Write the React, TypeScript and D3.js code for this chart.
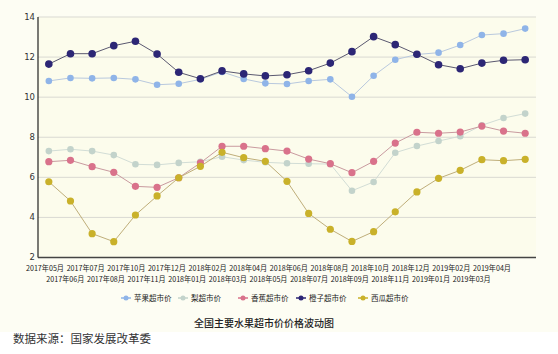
import React from 'react';
import * as d3 from 'd3';

const W = 558;
const H = 354;

// categories (2017年09月 is absent in the source)
const months = [
  '2017年05月', '2017年06月', '2017年07月', '2017年08月', '2017年10月', '2017年11月', '2017年12月',
  '2018年01月', '2018年02月', '2018年03月', '2018年04月', '2018年05月', '2018年06月', '2018年07月',
  '2018年08月', '2018年09月', '2018年10月', '2018年11月', '2018年12月',
  '2019年01月', '2019年02月', '2019年03月', '2019年04月'
];

const apple = [10.81, 10.96, 10.94, 10.96, 10.89, 10.62, 10.67, 10.89, 11.26, 10.91, 10.69, 10.66, 10.81, 10.89, 10.02, 11.07, 11.87, 12.13, 12.22, 12.6, 13.1, 13.17, 13.42];
const pear = [7.31, 7.4, 7.31, 7.11, 6.65, 6.62, 6.72, 6.78, 7.03, 6.86, 6.75, 6.7, 6.68, 6.66, 5.33, 5.77, 7.23, 7.56, 7.81, 8.05, 8.6, 8.96, 9.18];
const banana = [6.78, 6.85, 6.53, 6.25, 5.55, 5.5, 5.98, 6.72, 7.55, 7.55, 7.43, 7.31, 6.91, 6.68, 6.23, 6.8, 7.71, 8.25, 8.2, 8.26, 8.56, 8.31, 8.2];
const orange = [11.65, 12.17, 12.17, 12.57, 12.79, 12.15, 11.24, 10.92, 11.31, 11.16, 11.06, 11.12, 11.32, 11.7, 12.27, 13.02, 12.62, 12.14, 11.62, 11.42, 11.7, 11.84, 11.87];
const melon = [5.78, 4.82, 3.19, 2.79, 4.12, 5.07, 5.98, 6.55, 7.25, 6.98, 6.8, 5.8, 4.2, 3.41, 2.8, 3.29, 4.28, 5.27, 5.95, 6.35, 6.88, 6.83, 6.9];

const yTicks = [2, 4, 6, 8, 10, 12, 14];

const series = [
  { name: '苹果超市价', values: apple, dot: '#8fb4e8', line: '#b9c9de', r: 3.3 },
  { name: '梨超市价', values: pear, dot: '#c3d3cb', line: '#d2ddd6', r: 3.3 },
  { name: '香蕉超市价', values: banana, dot: '#d9728b', line: '#c99a9f', r: 3.6 },
  { name: '橙子超市价', values: orange, dot: '#2c2675', line: '#5a5870', r: 3.8 },
  { name: '西瓜超市价', values: melon, dot: '#c9b12a', line: '#bfae7a', r: 3.6 },
];

const legendX = [126, 183, 243, 301, 363];

const cjk = '"Noto Sans CJK SC", "Noto Sans", sans-serif';

export default function App() {
  const x = d3.scalePoint<string>().domain(months).range([38, 536]).padding(0.5);
  const xLab = d3.scalePoint<string>().domain(months).range([45, 492]);
  const y = d3.scaleLinear().domain([2, 14]).range([257.5, 17]);

  const line = (vals: number[]) =>
    d3.line<number>().x((_, i) => x(months[i]) as number).y(d => y(d))(vals) || '';

  return (
    <div style={{ position: 'absolute', left: 0, top: 0 }}>
      <svg width={W} height={H} style={{ display: 'block' }}>
        <rect x={0} y={0} width={W} height={H} fill="#ffffff" />
        <rect x={0} y={0} width={W} height={332} fill="#fdfdf3" />
        <rect x={38} y={17} width={498} height={240.5} fill="#fcfcec" />

        {yTicks.map(t => (
          <g key={t}>
            {t > 2 && (
              <line x1={38} x2={536} y1={y(t)} y2={y(t)} stroke="#d9d9d2" strokeWidth={1} />
            )}
            <text x={35} y={y(t)} dy="0.35em" textAnchor="end" fontSize={8.5}
              fontFamily='"DejaVu Sans", sans-serif' fill="#333">{t}</text>
          </g>
        ))}
        <line x1={38} x2={38} y1={17} y2={257.5} stroke="#222" strokeWidth={1.2} />
        <line x1={38} x2={536} y1={257.5} y2={257.5} stroke="#444" strokeWidth={1.5} />

        {months.map((m, i) => (
          <text key={m} x={xLab(m)} y={i % 2 === 0 ? 268 : 279} dy="0.35em" textAnchor="middle"
            fontSize={7.8} fontFamily={cjk} fill="#222" textLength={38} lengthAdjust="spacingAndGlyphs">{m}</text>
        ))}

        {series.map(s => (
          <g key={s.name}>
            <path d={line(s.values)} fill="none" stroke={s.line} strokeWidth={1} />
            {s.values.map((v, i) => (
              <circle key={i} cx={x(months[i])} cy={y(v)} r={s.r} fill={s.dot} />
            ))}
          </g>
        ))}

        {series.map((s, i) => (
          <g key={s.name} transform={`translate(${legendX[i]},298)`}>
            <line x1={-5} x2={5} y1={0} y2={0} stroke={s.dot} strokeWidth={1.5} />
            <circle cx={0} cy={0} r={2.5} fill={s.dot} />
            <text x={8} y={0} dy="0.35em" fontSize={7.5} fontFamily={cjk} fill="#222">{s.name}</text>
          </g>
        ))}

        <text x={264} y={323} dy="0.35em" textAnchor="middle" fontSize={10} fontFamily={cjk}
          fontWeight={500} fill="#222">全国主要水果超市价价格波动图</text>
        <text x={13} y={339} dy="0.35em" fontSize={11.5} fontFamily={cjk} fill="#333">数据来源：国家发展改革委</text>
      </svg>
    </div>
  );
}
